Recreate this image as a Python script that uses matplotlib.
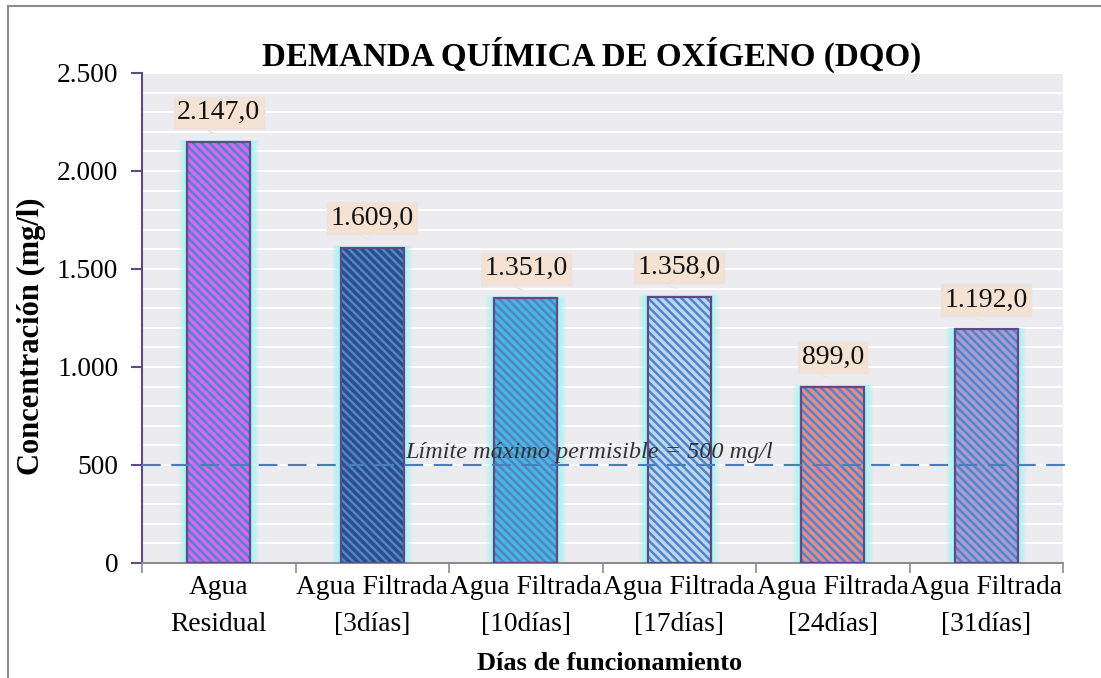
import matplotlib
matplotlib.use('Agg')
import matplotlib.pyplot as plt
from matplotlib.lines import Line2D
from matplotlib.ticker import FuncFormatter, MultipleLocator, FixedLocator
import numpy as np

plt.rcParams['font.family'] = ['Liberation Serif', 'DejaVu Serif']
plt.rcParams['hatch.linewidth'] = 1.8

# datos
categorias = ['Agua\nResidual', 'Agua Filtrada\n[3días]', 'Agua Filtrada\n[10días]',
              'Agua Filtrada\n[17días]', 'Agua Filtrada\n[24días]', 'Agua Filtrada\n[31días]']
dqo = [2147.0, 1609.0, 1351.0, 1358.0, 899.0, 1192.0]
limite = 500
y_ticks = [0, 500, 1000, 1500, 2000, 2500]

colores_base = ['#DA66F6', '#2C4D88', '#4CB6E0', '#BCD6F4', '#E88A8A', '#AC9AD4']
color_trama = '#4E86C8'
color_borde = '#5E4A84'


def miles(v, pos=None):
    s = f"{v:,.0f}"
    return s.replace(',', '.')


def etiqueta(v):
    s = f"{v:,.1f}"
    return s.replace(',', '#').replace('.', ',').replace('#', '.')


fig = plt.figure(figsize=(11.01, 6.78), dpi=100)
ax = fig.add_axes([142/1101, 1 - 563/678, (1063-142)/1101, (563-73)/678])
ax.set_facecolor('#ECEBF0')

x = np.arange(len(dqo))
ancho = 0.41

# brillo cian alrededor de las barras
for k, a in zip([0.12, 0.095, 0.07, 0.045, 0.02], [0.15, 0.25, 0.4, 0.55, 0.75]):
    ax.bar(x, np.array(dqo) + k * 100, width=ancho + k, color='#A6F3F3', alpha=a,
           linewidth=0, zorder=2)

ax.bar(x, dqo, width=ancho, color=colores_base, edgecolor=color_trama,
       hatch='\\\\\\\\', linewidth=0, zorder=3)
ax.bar(x, dqo, width=ancho, fill=False, edgecolor=color_borde, linewidth=1.6, zorder=4)

for i, v in enumerate(dqo):
    ax.annotate(etiqueta(v), xy=(i - 0.05, v + 45), xytext=(i, v + 150),
                ha='center', va='center', fontsize=20, color='#111111', zorder=6,
                bbox=dict(boxstyle='square,pad=0.12', fc='#F5E2D2', ec='#E8E4E4', lw=1),
                arrowprops=dict(arrowstyle='wedge,tail_width=0.5', fc='#F5E2D2', ec='none'))

# línea de límite
ax.axhline(limite, xmin=0, xmax=1.008, color='#4A7EBB', lw=1.5, ls=(0, (9, 5)),
           clip_on=False, zorder=5)
ax.text(2.415, limite + 12, 'Límite máximo permisible = 500 mg/l', ha='center', va='bottom',
        fontsize=17.5, style='italic', color='#333333', zorder=5)

ax.set_xlim(-0.5, 5.5)
ax.set_ylim(0, 2500)
ax.yaxis.set_major_locator(FixedLocator(y_ticks))
ax.yaxis.set_major_formatter(FuncFormatter(miles))
ax.yaxis.set_minor_locator(MultipleLocator(100))
ax.grid(which='both', axis='y', color='white', lw=1.5, zorder=0)
ax.set_axisbelow(True)

ax.set_xticks(x)
ax.set_xticklabels(categorias, fontsize=19.8, linespacing=1.6)
ax.xaxis.set_minor_locator(FixedLocator(np.arange(-0.5, 6, 1)))
ax.tick_params(axis='x', which='major', length=0, pad=9)
ax.tick_params(axis='x', which='minor', length=7, color='#8C8C8C', width=1.2)
ax.tick_params(axis='y', which='major', length=8, color=color_borde, width=1.5,
               labelsize=19.7, pad=9)
ax.tick_params(axis='y', which='minor', length=0)

for lado in ['top', 'right']:
    ax.spines[lado].set_visible(False)
ax.spines['left'].set_color(color_borde)
ax.spines['left'].set_linewidth(1.5)
ax.spines['bottom'].set_color('#8C8C8C')
ax.spines['bottom'].set_linewidth(1.5)

fig.text(0.537, 1 - 55/678, 'DEMANDA QUÍMICA DE OXÍGENO (DQO)', ha='center', va='center',
         fontsize=23.8, fontweight='bold')
fig.text(0.554, 1 - 663/678, 'Días de funcionamiento', ha='center', va='center',
         fontsize=19, fontweight='bold')
fig.text(31/1101, 1 - 336/678, 'Concentración (mg/l)', ha='center', va='center',
         rotation=90, fontsize=22, fontweight='bold')

# marco del gráfico
fig.add_artist(Line2D([8/1101, 8/1101], [0, 1 - 6/678], color='#8C8C8C', lw=1.5))
fig.add_artist(Line2D([8/1101, 1], [1 - 6/678, 1 - 6/678], color='#8C8C8C', lw=1.5))

fig.savefig('out.png', dpi=100)
